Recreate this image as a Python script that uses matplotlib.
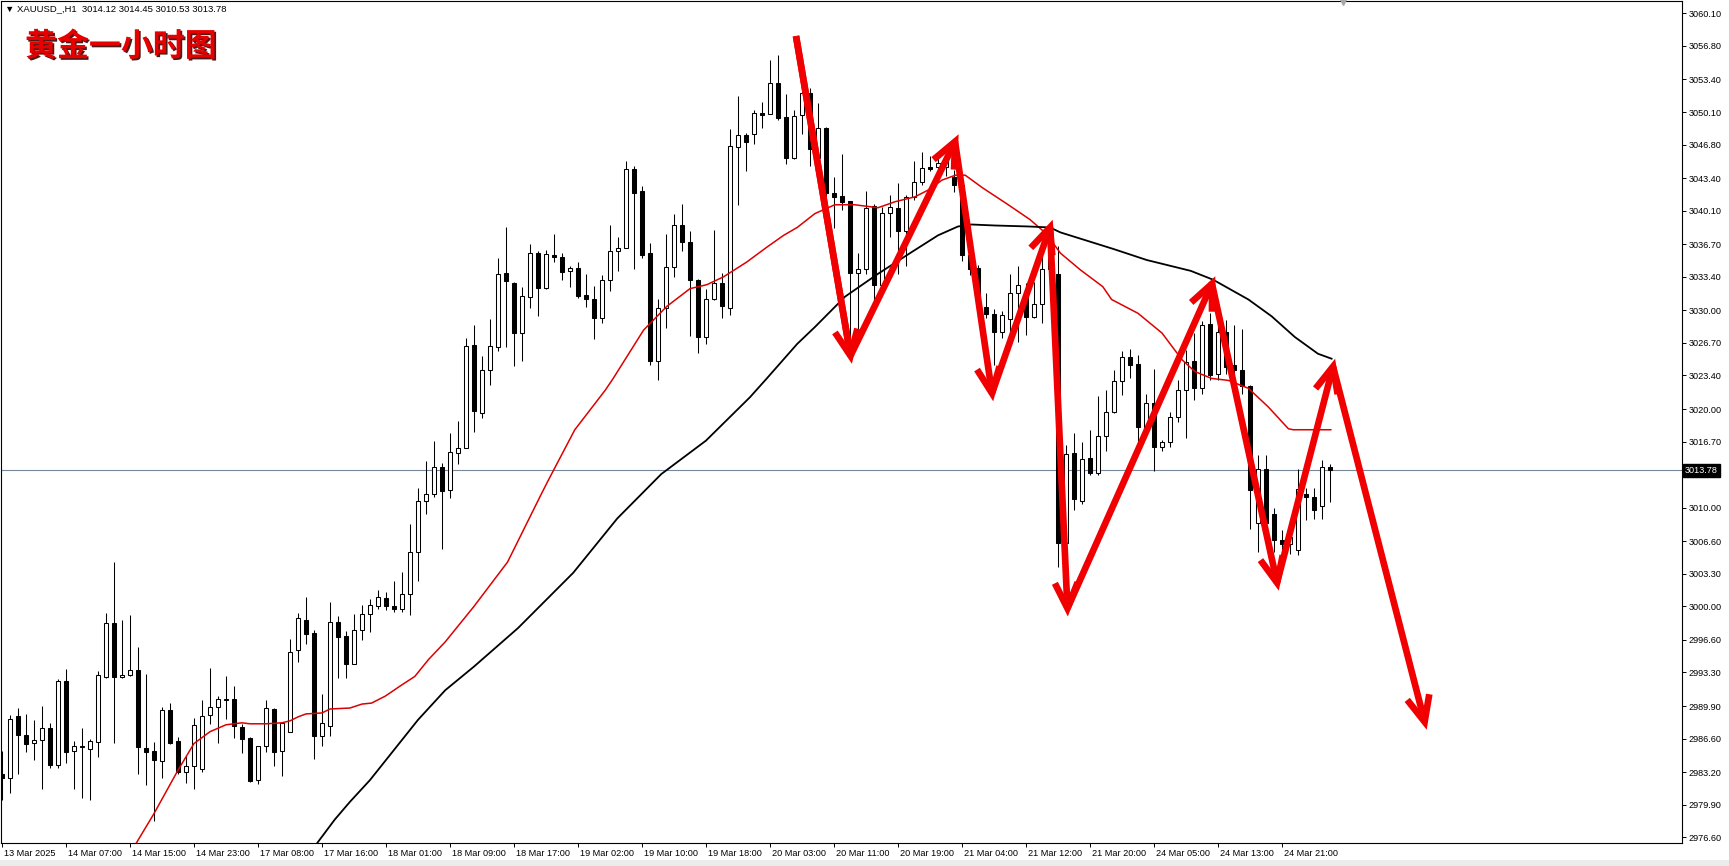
"""XAUUSD H1 candlestick chart (MT4 style) with two moving averages and a red zig-zag forecast."""
import numpy as np
import matplotlib
matplotlib.use("Agg")
import matplotlib.pyplot as plt
import matplotlib.patheffects as pe
from matplotlib.patches import Rectangle
from matplotlib.transforms import ScaledTranslation, blended_transform_factory

# --- hourly candles, bar 0 = 13 Mar 2025 23:00 ------------------------------
OPEN = [
    2983.0, 2982.6, 2988.9, 2987.0, 2986.2, 2986.5, 2987.7, 2983.9, 2992.4, 2985.3,
    2985.7, 2985.5, 2986.3, 2992.8, 2998.3, 2992.8, 2993.0, 2993.6, 2985.6, 2985.3,
    2984.3, 2989.5, 2986.4, 2983.2, 2983.8, 2983.5, 2989.0, 2989.8, 2990.5, 2990.6,
    2987.8, 2986.7, 2982.4, 2985.8, 2989.6, 2985.3, 2987.3, 2995.6, 2998.6, 2997.3,
    2986.9, 2987.9, 2998.4, 2997.0, 2994.2, 2997.6, 2999.2, 3000.0, 3000.8, 3000.0,
    2999.7, 3001.3, 3005.5, 3010.7, 3011.4, 3014.1, 3011.8, 3015.5, 3016.0, 3026.5,
    3019.6, 3024.0, 3026.3, 3033.8, 3032.8, 3027.7, 3031.4, 3035.8, 3032.3, 3035.6,
    3035.4, 3034.0, 3034.3, 3031.6, 3031.2, 3029.2, 3033.1, 3036.0, 3036.3, 3044.3,
    3042.1, 3035.8, 3024.9, 3030.2, 3034.4, 3038.7, 3036.9, 3033.1, 3027.3, 3031.2,
    3032.8, 3030.2, 3046.6, 3047.8, 3047.9, 3050.0, 3049.9, 3053.0, 3049.6, 3045.4,
    3049.8, 3052.0, 3045.4, 3048.5, 3041.9, 3041.6, 3041.1, 3033.8, 3034.2, 3040.6,
    3032.6, 3039.9, 3040.4, 3038.0, 3041.5, 3043.0, 3044.5, 3044.5, 3044.5, 3043.5,
    3042.7, 3035.6, 3034.3, 3030.3, 3029.6, 3027.8, 3029.1, 3031.8, 3031.8, 3029.3,
    3030.6, 3034.2, 3033.7, 3006.4, 3015.5, 3010.7, 3015.0, 3013.5, 3017.3, 3019.7,
    3022.8, 3025.3, 3024.6, 3018.1, 3020.6, 3016.2, 3016.7, 3019.2, 3021.9, 3024.9,
    3022.1, 3028.6, 3023.5, 3027.8, 3024.5, 3024.0, 3022.3, 3008.5, 3013.9, 3009.4,
    3006.7, 3006.3, 3005.7, 3011.4, 3011.1, 3010.2, 3014.12,
]
HIGH = [
    2985.3, 2989.0, 2989.7, 2989.1, 2988.5, 2989.9, 2988.2, 2992.6, 2993.7, 2986.4,
    2987.7, 2986.6, 2993.5, 2999.3, 3004.5, 2998.6, 2999.1, 2995.9, 2993.1, 2986.3,
    2989.8, 2990.2, 2986.8, 2984.8, 2988.7, 2990.5, 2993.8, 2990.9, 2992.9, 2991.9,
    2988.1, 2986.8, 2985.9, 2990.5, 2989.7, 2988.3, 2996.7, 2999.3, 3000.9, 2997.6,
    2991.1, 3000.4, 2999.0, 2997.5, 2999.2, 3000.1, 3000.7, 3001.7, 3001.5, 3002.6,
    3003.5, 3008.3, 3012.0, 3014.7, 3016.8, 3014.5, 3017.6, 3018.8, 3027.2, 3028.5,
    3025.4, 3029.1, 3035.3, 3038.4, 3032.9, 3032.4, 3036.7, 3036.0, 3036.1, 3037.7,
    3035.8, 3034.5, 3034.9, 3033.7, 3032.5, 3033.6, 3038.7, 3037.4, 3045.1, 3044.6,
    3042.6, 3036.8, 3031.2, 3037.7, 3039.8, 3040.8, 3038.0, 3033.2, 3032.2, 3038.1,
    3033.8, 3048.4, 3051.7, 3048.0, 3050.3, 3051.1, 3055.4, 3055.9, 3051.9, 3050.3,
    3053.3, 3052.5, 3051.0, 3048.6, 3043.5, 3045.8, 3041.1, 3035.8, 3042.1, 3040.8,
    3040.5, 3041.7, 3042.9, 3041.7, 3045.1, 3046.0, 3045.6, 3045.8, 3046.3, 3044.2,
    3043.0, 3036.0, 3034.6, 3031.8, 3030.1, 3029.9, 3033.7, 3034.5, 3032.8, 3032.9,
    3036.1, 3037.0, 3036.5, 3016.4, 3017.6, 3016.7, 3017.9, 3021.3, 3021.9, 3024.0,
    3025.9, 3026.1, 3025.5, 3021.5, 3024.1, 3016.9, 3019.7, 3022.9, 3026.0, 3027.7,
    3028.9, 3029.7, 3029.5, 3029.0, 3028.5, 3028.1, 3022.4, 3015.3, 3015.3, 3010.0,
    3007.7, 3008.0, 3013.9, 3012.0, 3012.0, 3014.8, 3014.45,
]
LOW = [
    2980.4, 2981.1, 2983.0, 2985.2, 2984.4, 2981.5, 2983.6, 2983.6, 2984.1, 2981.5,
    2980.6, 2980.4, 2984.7, 2992.7, 2986.2, 2992.7, 2992.9, 2983.0, 2981.9, 2978.2,
    2982.6, 2986.1, 2983.0, 2982.1, 2981.5, 2983.2, 2988.1, 2986.2, 2988.6, 2986.7,
    2985.1, 2982.2, 2982.0, 2985.2, 2983.8, 2982.8, 2987.3, 2994.4, 2996.2, 2984.5,
    2985.8, 2986.9, 2992.7, 2992.7, 2994.2, 2996.6, 2997.4, 2999.7, 2999.6, 2999.4,
    2999.4, 2999.1, 3002.6, 3009.4, 3011.1, 3005.8, 3011.0, 3014.4, 3016.0, 3017.7,
    3019.1, 3022.4, 3025.9, 3026.3, 3024.4, 3024.9, 3030.2, 3029.4, 3032.2, 3034.9,
    3033.1, 3032.4, 3031.3, 3030.3, 3027.1, 3028.7, 3032.0, 3034.0, 3036.3, 3034.2,
    3035.3, 3024.5, 3022.9, 3028.2, 3033.4, 3036.0, 3027.4, 3025.7, 3026.6, 3031.0,
    3029.2, 3029.5, 3040.7, 3044.1, 3046.9, 3048.5, 3049.9, 3049.3, 3044.8, 3045.3,
    3047.9, 3044.6, 3044.6, 3041.5, 3038.3, 3040.2, 3026.5, 3028.0, 3033.7, 3030.5,
    3032.2, 3037.4, 3033.7, 3034.5, 3041.2, 3042.7, 3044.1, 3043.9, 3043.6, 3042.0,
    3035.0, 3033.6, 3031.0, 3029.2, 3024.5, 3027.2, 3027.8, 3026.8, 3027.5, 3029.2,
    3028.7, 3033.0, 3004.0, 2999.5, 3009.8, 3010.4, 3013.3, 3013.3, 3015.7, 3019.6,
    3021.4, 3023.1, 3016.7, 3017.8, 3013.7, 3015.7, 3016.2, 3018.7, 3017.1, 3020.9,
    3021.5, 3022.9, 3022.9, 3023.5, 3022.0, 3021.5, 3007.8, 3005.5, 3007.4, 3005.5,
    3005.0, 3005.3, 3005.2, 3008.8, 3008.9, 3008.9, 3010.53,
]
CLOSE = [
    2982.6, 2988.6, 2987.0, 2986.1, 2986.5, 2987.7, 2983.9, 2992.4, 2985.2, 2985.8,
    2985.8, 2986.4, 2993.0, 2998.3, 2992.8, 2993.0, 2993.6, 2985.7, 2985.2, 2984.4,
    2989.5, 2986.2, 2983.2, 2983.8, 2988.0, 2988.9, 2989.8, 2990.6, 2990.6, 2987.9,
    2986.6, 2982.3, 2985.8, 2989.7, 2985.2, 2988.2, 2995.4, 2998.8, 2997.2, 2986.9,
    2988.2, 2998.4, 2996.9, 2994.2, 2997.6, 2999.2, 3000.1, 3000.9, 3000.0, 2999.7,
    3001.3, 3005.5, 3010.7, 3011.4, 3014.1, 3011.7, 3015.6, 3016.0, 3026.4, 3019.8,
    3024.0, 3026.4, 3033.7, 3033.0, 3027.7, 3031.5, 3035.8, 3032.3, 3035.7, 3035.4,
    3033.9, 3034.3, 3031.5, 3031.2, 3029.2, 3033.1, 3036.0, 3036.3, 3044.3, 3041.9,
    3035.6, 3024.9, 3030.2, 3034.4, 3038.7, 3036.9, 3033.1, 3027.3, 3031.2, 3032.8,
    3030.4, 3046.7, 3047.8, 3047.1, 3050.0, 3049.8, 3053.0, 3049.5, 3045.4, 3049.7,
    3052.0, 3046.4, 3048.5, 3041.9, 3041.5, 3041.0, 3033.8, 3034.2, 3040.4, 3032.6,
    3039.9, 3040.5, 3038.0, 3041.5, 3043.0, 3044.4, 3044.3, 3044.9, 3045.5, 3042.7,
    3035.6, 3034.2, 3031.5, 3029.6, 3027.8, 3029.5, 3031.8, 3032.6, 3029.3, 3030.6,
    3034.2, 3035.8, 3006.4, 3015.4, 3010.9, 3014.9, 3013.5, 3017.3, 3019.7, 3022.8,
    3025.3, 3024.5, 3018.2, 3020.6, 3016.2, 3016.7, 3019.2, 3021.9, 3024.8, 3022.1,
    3028.5, 3023.4, 3027.8, 3024.3, 3024.0, 3022.3, 3011.8, 3013.9, 3008.4, 3006.7,
    3006.3, 3007.0, 3011.9, 3011.1, 3009.8, 3014.1, 3013.78,
]
LAST_PRICE = 3013.78

# --- moving averages as (bar, price) ---------------------------------------
RED_MA_BAR = [16.0, 17.0, 19.0, 22.0, 24.0, 26.0, 28.0, 30.0, 31.0, 33.0,
              35.0, 36.0, 37.0, 38.0, 40.0, 41.0, 43.5, 45.0, 46.2, 47.9,
              49.9, 51.6, 53.3, 55.4, 59.0, 63.2, 67.3, 68.3, 71.6, 75.4,
              76.4, 80.2, 83.1, 86.0, 88.1, 90.2, 93.1, 95.6, 97.7, 99.4,
              101.6, 104.1, 106.6, 109.5, 111.6, 114.1, 115.8, 117.5, 119.2, 120.4,
              122.6, 125.6, 128.5, 130.2, 131.4, 132.3, 134.8, 137.6, 138.7, 142.0,
              145.0, 147.5, 149.1, 151.2, 153.3, 155.8, 158.3, 160.8, 161.4, 163.2,
              166.1]
RED_MA_PRICE = [2974.9, 2976.3, 2979.0, 2983.4, 2986.1, 2987.3, 2988.0, 2988.2, 2988.1, 2988.1,
                2988.2, 2988.4, 2988.8, 2989.1, 2989.2, 2989.6, 2989.7, 2990.1, 2990.2, 2990.9,
                2992.0, 2992.9, 2994.6, 2996.4, 3000.0, 3004.5, 3011.2, 3012.8, 3017.9, 3021.9,
                3023.1, 3028.0, 3030.4, 3032.2, 3032.6, 3033.4, 3034.9, 3036.4, 3037.6, 3038.4,
                3039.8, 3040.7, 3040.7, 3040.4, 3041.0, 3041.5, 3042.2, 3043.2, 3043.7, 3043.7,
                3042.4, 3040.8, 3039.2, 3038.0, 3036.8, 3035.8, 3034.1, 3032.4, 3031.1, 3029.7,
                3027.7, 3025.0, 3023.8, 3023.1, 3022.9, 3022.1, 3020.2, 3018.0, 3017.9, 3017.9,
                3017.9]
BLACK_MA_BAR = [38.0, 41.6, 43.5, 46.0, 52.0, 55.4, 59.0, 64.5, 71.4, 76.9,
                82.4, 88.0, 93.5, 95.6, 99.4, 101.6, 105.4, 109.5, 113.7, 117.0,
                119.5, 121.2, 124.1, 128.3, 131.0, 132.3, 139.0, 143.1, 148.6, 151.4,
                155.8, 158.7, 161.6, 164.5, 166.2]
BLACK_MA_PRICE = [2974.5, 2978.4, 2980.2, 2982.4, 2988.5, 2991.5, 2993.9, 2997.8, 3003.4, 3008.9,
                  3013.4, 3016.8, 3021.2, 3023.1, 3026.6, 3028.3, 3031.4, 3033.7, 3035.9, 3037.6,
                  3038.5, 3038.7, 3038.6, 3038.5, 3038.4, 3037.9, 3036.2, 3035.1, 3034.0, 3033.1,
                  3031.1, 3029.4, 3027.3, 3025.6, 3025.1]

# --- hand-drawn red zig-zag (vertices as bar, price) ------------------------
ZIGZAG_BAR = [99.25, 106.06, 119.13, 123.75, 131.0, 133.18, 151.25, 159.38, 166.38, 177.83]
ZIGZAG_PRICE = [3057.8, 3025.4, 3047.1, 3021.6, 3038.4, 2999.8, 3032.7, 3002.4, 3024.3, 2988.3]

# --- axes -------------------------------------------------------------------
PRICE_TICKS = [3060.10, 3056.80, 3053.40, 3050.10, 3046.80, 3043.40, 3040.10, 3036.70,
               3033.40, 3030.00, 3026.70, 3023.40, 3020.00, 3016.70, 3010.00, 3006.60,
               3003.30, 3000.00, 2996.60, 2993.30, 2989.90, 2986.60, 2983.20, 2979.90,
               2976.60]
TIME_LABELS = ["13 Mar 2025", "14 Mar 07:00", "14 Mar 15:00", "14 Mar 23:00",
               "17 Mar 08:00", "17 Mar 16:00", "18 Mar 01:00", "18 Mar 09:00",
               "18 Mar 17:00", "19 Mar 02:00", "19 Mar 10:00", "19 Mar 18:00",
               "20 Mar 03:00", "20 Mar 11:00", "20 Mar 19:00", "21 Mar 04:00",
               "21 Mar 12:00", "21 Mar 20:00", "24 Mar 05:00", "24 Mar 13:00",
               "24 Mar 21:00"]
TIME_TICK_BARS = list(range(0, 8 * len(TIME_LABELS), 8))

HEADER = "\u25bc XAUUSD_,H1  3014.12 3014.45 3010.53 3013.78"
TITLE_CN = "黄金一小时图"

ARROW_RED = "#f00000"
MA_RED = "#dd0000"
PRICE_LINE = "#77889a"
TICK_FONT = ["Liberation Sans", "DejaVu Sans"]

W, H = 1729, 866
fig = plt.figure(figsize=(W / 100, H / 100), dpi=100)
fig.patch.set_facecolor("white")
ax = fig.add_axes([1 / W, 1 - 843 / H, 1681 / W, 842 / H])
ax.set_xlim(-0.125, 210.0)
ax.set_ylim(2976.02, 3061.35)

for sp in ax.spines.values():
    sp.set_color("black")
    sp.set_linewidth(0.8)

# current price line
ax.axhline(LAST_PRICE, color=PRICE_LINE, lw=0.8, zorder=1)

# candles
idx = np.arange(len(OPEN))
o = np.array(OPEN)
c = np.array(CLOSE)
bull = c >= o
ax.vlines(idx, LOW, HIGH, color="black", lw=0.75, zorder=2)
body_lo = np.minimum(o, c)
body_h = np.maximum(np.abs(c - o), 0.1)
ax.bar(idx[bull], body_h[bull], bottom=body_lo[bull], width=0.56,
       facecolor="white", edgecolor="black", linewidth=0.75, zorder=3)
ax.bar(idx[~bull], body_h[~bull], bottom=body_lo[~bull], width=0.56,
       facecolor="black", edgecolor="black", linewidth=0.75, zorder=3)

# moving averages
ax.plot(RED_MA_BAR, RED_MA_PRICE, color=MA_RED, lw=1.1, zorder=4)
ax.plot(BLACK_MA_BAR, BLACK_MA_PRICE, color="black", lw=1.3, zorder=4)

# zig-zag arrows: shafts + open V heads at every vertex after the first
ax.plot(ZIGZAG_BAR[:2], ZIGZAG_PRICE[:2], color=ARROW_RED, lw=4.8,
        solid_capstyle="butt", zorder=6)
pts = ax.transData.transform(np.column_stack([ZIGZAG_BAR, ZIGZAG_PRICE]))
inv = ax.transData.inverted()
head_len, head_ang = 28.0, np.radians(24)
for i in range(1, len(pts)):
    ax.plot(ZIGZAG_BAR[i - 1:i + 1], ZIGZAG_PRICE[i - 1:i + 1], color=ARROW_RED,
            lw=4.8, solid_capstyle="butt", zorder=6)
    tip, prev = pts[i], pts[i - 1]
    d = (prev - tip) / np.linalg.norm(prev - tip)
    legs = []
    for a in (head_ang, -head_ang):
        rot = np.array([d[0] * np.cos(a) - d[1] * np.sin(a),
                        d[0] * np.sin(a) + d[1] * np.cos(a)])
        legs.append(tip + rot * head_len)
    v = inv.transform(np.array([legs[0], tip, legs[1]]))
    ax.plot(v[:, 0], v[:, 1], color=ARROW_RED, lw=4.8, solid_joinstyle="miter",
            solid_capstyle="butt", zorder=6)

# price axis on the right
ax.yaxis.tick_right()
ax.set_yticks(PRICE_TICKS)
ax.set_yticklabels([f"{p:.2f}" for p in PRICE_TICKS], family=TICK_FONT, fontsize=6.6)
ax.tick_params(axis="y", direction="out", length=3, width=0.7, pad=1.5, colors="black")

# time axis
ax.set_xticks(TIME_TICK_BARS)
ax.set_xticklabels(TIME_LABELS, family=TICK_FONT, fontsize=6.6, ha="left")
ax.tick_params(axis="x", direction="out", length=3, width=0.7, pad=1.5, colors="black")
shift = ScaledTranslation(2 / 100, 0, fig.dpi_scale_trans)
for lab in ax.get_xticklabels():
    lab.set_transform(lab.get_transform() + shift)

# last price tag
ax.text(1.0 + 3 / 1681, LAST_PRICE, f"{LAST_PRICE:.2f}",
        transform=blended_transform_factory(ax.transAxes, ax.transData),
        ha="left", va="center", color="white", family=TICK_FONT, fontsize=6.6,
        bbox=dict(facecolor="black", edgecolor="black", pad=1.2), zorder=10,
        clip_on=False)

# chart-shift marker at the top edge
ax.plot([167.6], [1.0], marker="v", markersize=6, color="#a8a8a8",
        transform=blended_transform_factory(ax.transData, ax.transAxes),
        clip_on=False, zorder=7)

# header and title
fig.text(5 / W, 1 - 9 / H, HEADER, family=TICK_FONT, fontsize=6.8,
         ha="left", va="center", color="black")
fig.text(25 / W, 1 - 47 / H, TITLE_CN, family=["Noto Sans CJK SC", "DejaVu Sans"],
         fontsize=23, fontweight="bold", color="#e60000", ha="left", va="center",
         path_effects=[pe.SimplePatchShadow(offset=(1.2, -1.2), shadow_rgbFace="#3a0000",
                                            alpha=0.9), pe.Normal()])

# light grey strip under the time axis
fig.patches.append(Rectangle((0, 0), 1, 6 / H, transform=fig.transFigure,
                             facecolor="#ececec", edgecolor="none", zorder=0))

fig.savefig("out.png", dpi=100)
